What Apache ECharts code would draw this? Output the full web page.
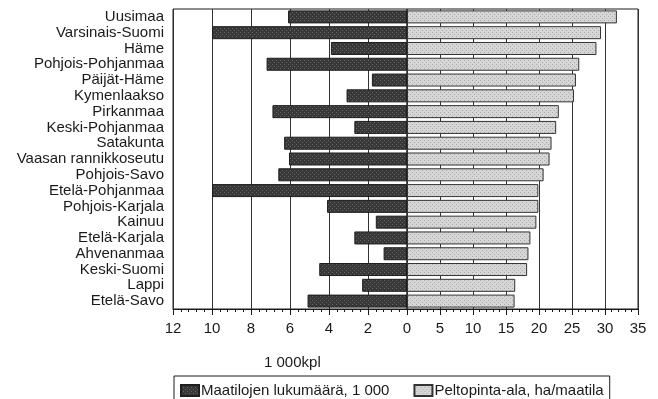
<!DOCTYPE html>
<html>
<head>
<meta charset="utf-8">
<script src="https://cdn.jsdelivr.net/npm/echarts@6/dist/echarts.min.js"></script>
<style>
  html, body { margin: 0; padding: 0; background: #fff; }
  #chart { width: 658px; height: 399px; }
</style>
</head>
<body>
<div id="chart"></div>
<script>
// regions, top to bottom
const regions = [
  "Uusimaa", "Varsinais-Suomi", "Häme", "Pohjois-Pohjanmaa", "Päijät-Häme",
  "Kymenlaakso", "Pirkanmaa", "Keski-Pohjanmaa", "Satakunta",
  "Vaasan rannikkoseutu", "Pohjois-Savo", "Etelä-Pohjanmaa", "Pohjois-Karjala",
  "Kainuu", "Etelä-Karjala", "Ahvenanmaa", "Keski-Suomi", "Lappi", "Etelä-Savo"
];
// number of farms, 1 000 (left side)
const farms = [
  6.1, 10.0, 3.9, 7.2, 1.8, 3.1, 6.9, 2.7, 6.3, 6.05,
  6.6, 10.0, 4.1, 1.6, 2.7, 1.2, 4.5, 2.3, 5.1
];
// field area, ha per farm (right side)
const fieldArea = [
  31.8, 29.4, 28.7, 26.1, 25.6, 25.3, 23.0, 22.6, 21.9, 21.6,
  20.7, 19.9, 19.9, 19.6, 18.7, 18.4, 18.2, 16.4, 16.3
];
const NAME_FARMS = "Maatilojen lukumäärä, 1 000";
const NAME_AREA = "Peltopinta-ala, ha/maatila";
const UNIT_LABEL = "1 000kpl";

const FONT = "Liberation Sans, Arial, sans-serif";
const INK = "#1a1a1a";

// stippled fills, like the print screen
function stipple(base, dot) {
  const c = document.createElement("canvas");
  c.width = 4; c.height = 4;
  const g = c.getContext("2d");
  g.fillStyle = base;
  g.fillRect(0, 0, 4, 4);
  g.fillStyle = dot;
  g.fillRect(0, 0, 1, 1);
  g.fillRect(2, 2, 1, 1);
  return { image: c, repeat: "repeat" };
}
const FILL_DARK = stipple("#383838", "#666");
const FILL_LIGHT = stipple("#d6d6d6", "#a9a9a9");

const chart = echarts.init(document.getElementById("chart"), null, { renderer: "canvas" });

const grids = [
  { left: 173, top: 9, width: 234, height: 300, show: true, borderColor: INK, borderWidth: 1 },
  { left: 407, top: 9, width: 231, height: 300, show: true, borderColor: INK, borderWidth: 1 }
];

const baseX = {
  type: "value",
  axisLine: { show: true, lineStyle: { color: INK, width: 1 } },
  axisTick: { show: true, inside: false, length: 6, lineStyle: { color: INK } },
  minorTick: { show: true, splitNumber: 5, length: 3, lineStyle: { color: INK } },
  splitLine: { show: true, lineStyle: { color: "#333", width: 1 } },
  axisLabel: { color: INK, fontFamily: FONT, fontSize: 15, margin: 12 }
};

chart.setOption({
  animation: false,
  grid: grids,
  xAxis: [
    Object.assign({}, baseX, {
      gridIndex: 0, min: 0, max: 12, interval: 2, inverse: true
    }),
    Object.assign({}, baseX, {
      gridIndex: 1, min: 0, max: 35, interval: 5,
      axisLabel: Object.assign({}, baseX.axisLabel, {
        formatter: v => (v === 0 ? "" : String(v))
      })
    })
  ],
  yAxis: [
    {
      type: "category", gridIndex: 0, data: regions, inverse: true,
      axisLine: { show: false }, axisTick: { show: false },
      axisLabel: { color: INK, fontFamily: FONT, fontSize: 15, margin: 9, interval: 0 }
    },
    {
      type: "category", gridIndex: 1, data: regions, inverse: true,
      axisLine: { show: false }, axisTick: { show: false },
      axisLabel: { show: false }
    }
  ],
  legend: {
    left: 174, top: 376,
    itemWidth: 18, itemHeight: 11, itemGap: 24,
    padding: [7, 6, 8, 6],
    borderColor: INK, borderWidth: 1,
    icon: "rect",
    textStyle: { color: INK, fontFamily: FONT, fontSize: 15, padding: [0, 0, 0, -3] },
    data: [NAME_FARMS, NAME_AREA]
  },
  graphic: [
    {
      type: "text", left: 264, top: 355,
      style: { text: UNIT_LABEL, fill: INK, font: "15px " + FONT }
    }
  ],
  series: [
    {
      name: NAME_FARMS, type: "bar", xAxisIndex: 0, yAxisIndex: 0,
      data: farms, barWidth: 13,
      itemStyle: { color: FILL_DARK, borderColor: "#1e1e1e", borderWidth: 1 }
    },
    {
      name: NAME_AREA, type: "bar", xAxisIndex: 1, yAxisIndex: 1,
      data: fieldArea, barWidth: 13,
      itemStyle: { color: FILL_LIGHT, borderColor: "#333", borderWidth: 1 }
    }
  ]
});

window.addEventListener("resize", () => chart.resize());
</script>
</body>
</html>
